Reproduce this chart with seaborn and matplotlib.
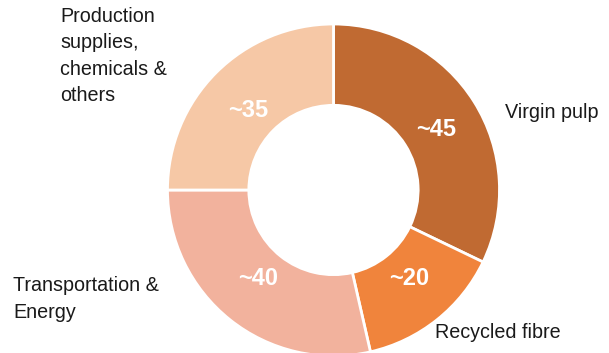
import numpy as np
import matplotlib
matplotlib.use("Agg")
import matplotlib.pyplot as plt
import seaborn as sns

# Cost breakdown shares (approximate values shown on the ring)
categories = ["Virgin pulp", "Recycled fibre", "Transportation &\nEnergy",
              "Production\nsupplies,\nchemicals &\nothers"]
values = [45, 20, 40, 35]
value_labels = ["~45", "~20", "~40", "~35"]
colors = ["#C06A32", "#F0843C", "#F2B29D", "#F6C8A6"]

sns.set_theme(style="white")
plt.rcParams["font.family"] = ["Liberation Sans", "DejaVu Sans"]

W, H, DPI = 609, 353, 100
fig = plt.figure(figsize=(W / DPI, H / DPI), dpi=DPI)
ax = fig.add_axes([0, 0, 1, 1])

palette = sns.color_palette(colors)
wedges, _ = ax.pie(values, colors=palette, startangle=90, counterclock=False,
                   radius=1.0, wedgeprops=dict(width=0.49, edgecolor="white", linewidth=2))

# value labels inside the ring, placed at each wedge's mid angle
total = float(sum(values))
start = 90.0
rx, ry = 0.73, 0.68
for v, lab in zip(values, value_labels):
    mid = np.deg2rad(start - 360.0 * v / total / 2)
    start -= 360.0 * v / total
    ax.text(rx * np.cos(mid), ry * np.sin(mid), lab, ha="center", va="center",
            color="white", fontsize=17, fontweight="bold")

# pixel-based frame: ring centre at (333.5, 190), 166 px per unit radius
cx, cy, s = 333.5, 190.0, 166.0
ax.set_xlim(-cx / s, (W - cx) / s)
ax.set_ylim(-(H - cy) / s, cy / s)
ax.set_aspect("auto")
ax.axis("off")

def px(x, y):
    return (x - cx) / s, (cy - y) / s

# category names around the ring
label_pos = [(505, 118, "baseline"), (435, 338, "baseline"),
             (13, 299, "center"), (60, 56, "center")]
for name, (x, y, va) in zip(categories, label_pos):
    ax.text(*px(x, y), name, ha="left", va=va, fontsize=14.2, color="#1a1a1a",
            linespacing=1.5)

fig.savefig("out.png", dpi=DPI, facecolor="white")
